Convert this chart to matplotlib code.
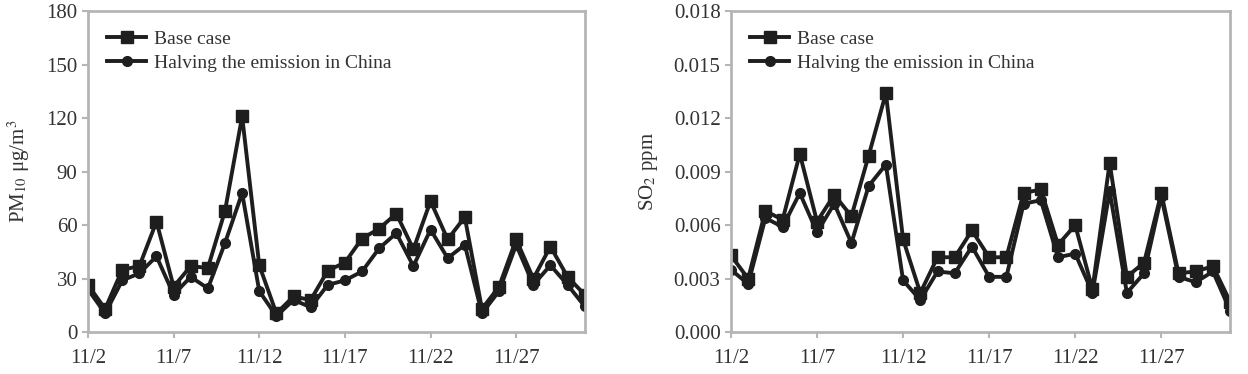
import matplotlib.pyplot as plt
import numpy as np

plt.rcParams['font.family'] = ['Liberation Serif', 'DejaVu Serif']
plt.rcParams['mathtext.fontset'] = 'stix'

# days 11/2 .. 12/1
days = ['11/%d' % d for d in range(2, 31)] + ['12/1']
tick_labels = ['11/2', '11/7', '11/12', '11/17', '11/22', '11/27']

pm10_base = [26.5, 13, 35, 37, 62, 25.5, 37, 36, 68, 121, 37.5, 10.5, 20, 18,
             34.5, 39, 52.5, 58, 66.5, 46.5, 73.5, 52, 64.5, 13, 25.5, 52, 30, 48, 31, 21]
pm10_half = [24, 10.5, 29, 33, 42.5, 21, 31, 24.5, 50, 78, 23, 9, 18, 14,
             26.5, 29, 34, 47, 55.5, 37, 57.5, 41.5, 49, 10.5, 23, 49, 26.5, 37.5, 26.5, 14.5]

so2_base = [0.0043, 0.0030, 0.0068, 0.0063, 0.0100, 0.0062, 0.0077, 0.0065, 0.0099, 0.0134,
            0.0052, 0.0022, 0.0042, 0.0042, 0.0057, 0.0042, 0.0042, 0.0078, 0.0080, 0.0049,
            0.0060, 0.0024, 0.0095, 0.0031, 0.0039, 0.0078, 0.0033, 0.0034, 0.0037, 0.0017]
so2_half = [0.0035, 0.0027, 0.0064, 0.0059, 0.0078, 0.0056, 0.0072, 0.0050, 0.0082, 0.0094,
            0.0029, 0.0018, 0.0034, 0.0033, 0.0048, 0.0031, 0.0031, 0.0072, 0.0074, 0.0042,
            0.0044, 0.0022, 0.0079, 0.0022, 0.0033, 0.0076, 0.0031, 0.0028, 0.0034, 0.0012]

x = np.arange(len(days))
spine_col = '#b5b5b5'
line_col = '#1e1e1e'

fig = plt.figure(figsize=(12.48, 3.74), dpi=100)
ax1 = fig.add_axes([0.0705, 0.112, 0.398, 0.858])
ax2 = fig.add_axes([0.5857, 0.112, 0.400, 0.858])


def style(ax, base_vals, half_vals, ylim, yticks, yfmt, ylabel):
    ax.plot(x, base_vals, color=line_col, lw=2.8, marker='s', ms=8, label='Base case')
    ax.plot(x, half_vals, color=line_col, lw=2.8, marker='o', ms=7,
            label='Halving the emission in China')
    ax.set_xlim(0, len(days) - 1)
    ax.set_ylim(*ylim)
    ax.set_yticks(yticks)
    ax.set_yticklabels([yfmt % v for v in yticks])
    ax.set_xticks([days.index(t) for t in tick_labels])
    ax.set_xticklabels(tick_labels)
    for s in ax.spines.values():
        s.set_color(spine_col)
        s.set_linewidth(2)
    ax.tick_params(colors=spine_col, labelcolor='#333333', labelsize=15, length=4, width=1.5)
    ax.tick_params(axis='x', pad=8)
    ax.set_ylabel(ylabel, fontsize=15, color='#333333', labelpad=10)
    leg = ax.legend(loc='upper left', frameon=False, fontsize=14, handlelength=2.0,
                    handletextpad=0.4, labelspacing=0.3, borderaxespad=0.6)
    for t in leg.get_texts():
        t.set_color('#333333')


style(ax1, pm10_base, pm10_half, (0, 180), [0, 30, 60, 90, 120, 150, 180], '%d',
      'PM$_{10}$ μg/m$^{3}$')
style(ax2, so2_base, so2_half, (0, 0.018), [0, 0.003, 0.006, 0.009, 0.012, 0.015, 0.018],
      '%.3f', 'SO$_{2}$ ppm')

fig.savefig('out.png', dpi=100)
